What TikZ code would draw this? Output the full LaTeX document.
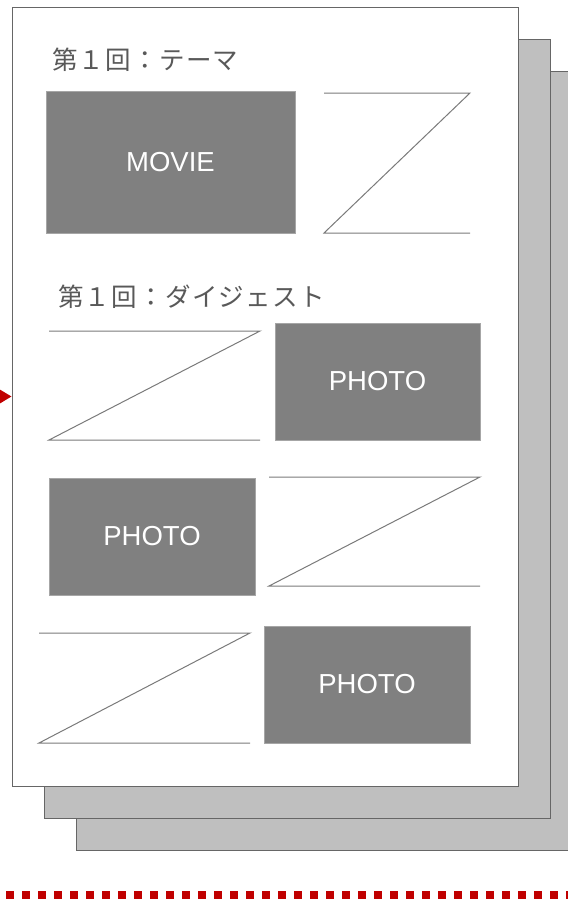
\documentclass[tikz,border=0pt]{standalone}
\usepackage{fontspec}
\setmainfont{Liberation Sans}
\newfontfamily\jpfont[LetterSpace=5]{Noto Sans CJK JP}
\usetikzlibrary{arrows.meta}

\definecolor{sheetgray}{HTML}{BFBFBF}
\definecolor{boxgray}{HTML}{808080}
\definecolor{linegray}{HTML}{7A7A7A}
\definecolor{textgray}{HTML}{595959}
\definecolor{markred}{HTML}{C00000}

\tikzset{
  sheet/.style={draw=black!60, line width=1pt, fill=sheetgray, inner sep=0pt,
    minimum width=\pagew pt, minimum height=\pageh pt},
  photobox/.style={draw=black!35, line width=1pt, fill=boxgray, text=white, inner sep=0pt,
    font=\fontsize{27.5}{32}\selectfont},
  zline/.style={draw=linegray, line width=1pt},
  heading/.style={anchor=west, inner sep=0pt, text=textgray,
    font=\jpfont\fontsize{25.5}{30}\selectfont},
  redline/.style={draw=markred, line width=8pt, dash pattern=on 8pt off 8pt, dash phase=10pt}
}

\begin{document}
\begin{tikzpicture}[x=1pt,y=-1pt]
\pgfmathsetmacro{\pagew}{506}
\pgfmathsetmacro{\pageh}{779}
\pgfmathsetmacro{\shift}{32}
\useasboundingbox (0,0) rectangle (568,914);
\clip (0,0) rectangle (568,914);

% stacked sheets
\node[sheet] (sheetc) at (265+2*\shift,396.5+2*\shift) {};
\node[sheet] (sheetb) at (265+\shift,396.5+\shift) {};
\node[sheet, fill=white] (sheeta) at (265,396.5) {};

% theme
\node[heading] (theme) at (52,60) {第１回：テーマ};
\node[photobox, minimum width=249pt, minimum height=142pt] (movie) at (170.5,162) {MOVIE};
\draw[zline] (324,93) -- (470,93) -- (324,233) -- (470,233);

% digest
\node[heading] (digest) at (58,297) {第１回：ダイジェスト};
\draw[zline] (49,331) -- (260,331) -- (49,440) -- (260,440);
\node[photobox, minimum width=205pt, minimum height=117pt] (photoa) at (377.5,381.5) {PHOTO};
\node[photobox, minimum width=206pt, minimum height=117pt] (photob) at (152,536.5) {PHOTO};
\draw[zline] (269,477) -- (480,477) -- (269,586) -- (480,586);
\draw[zline] (39,633) -- (250,633) -- (39,743) -- (250,743);
\node[photobox, minimum width=206pt, minimum height=117pt] (photoc) at (367,684.5) {PHOTO};

% incoming arrow
\coordinate (from) at (-30,396.5);
\draw[markred, line width=2pt, -{Triangle[length=15pt,width=17.5pt]}] (from) -- (sheeta.west);

% separator
\coordinate (sepl) at (0,895);
\coordinate (sepr) at (568,895);
\draw[redline] (sepl) -- (sepr);
\end{tikzpicture}
\end{document}
